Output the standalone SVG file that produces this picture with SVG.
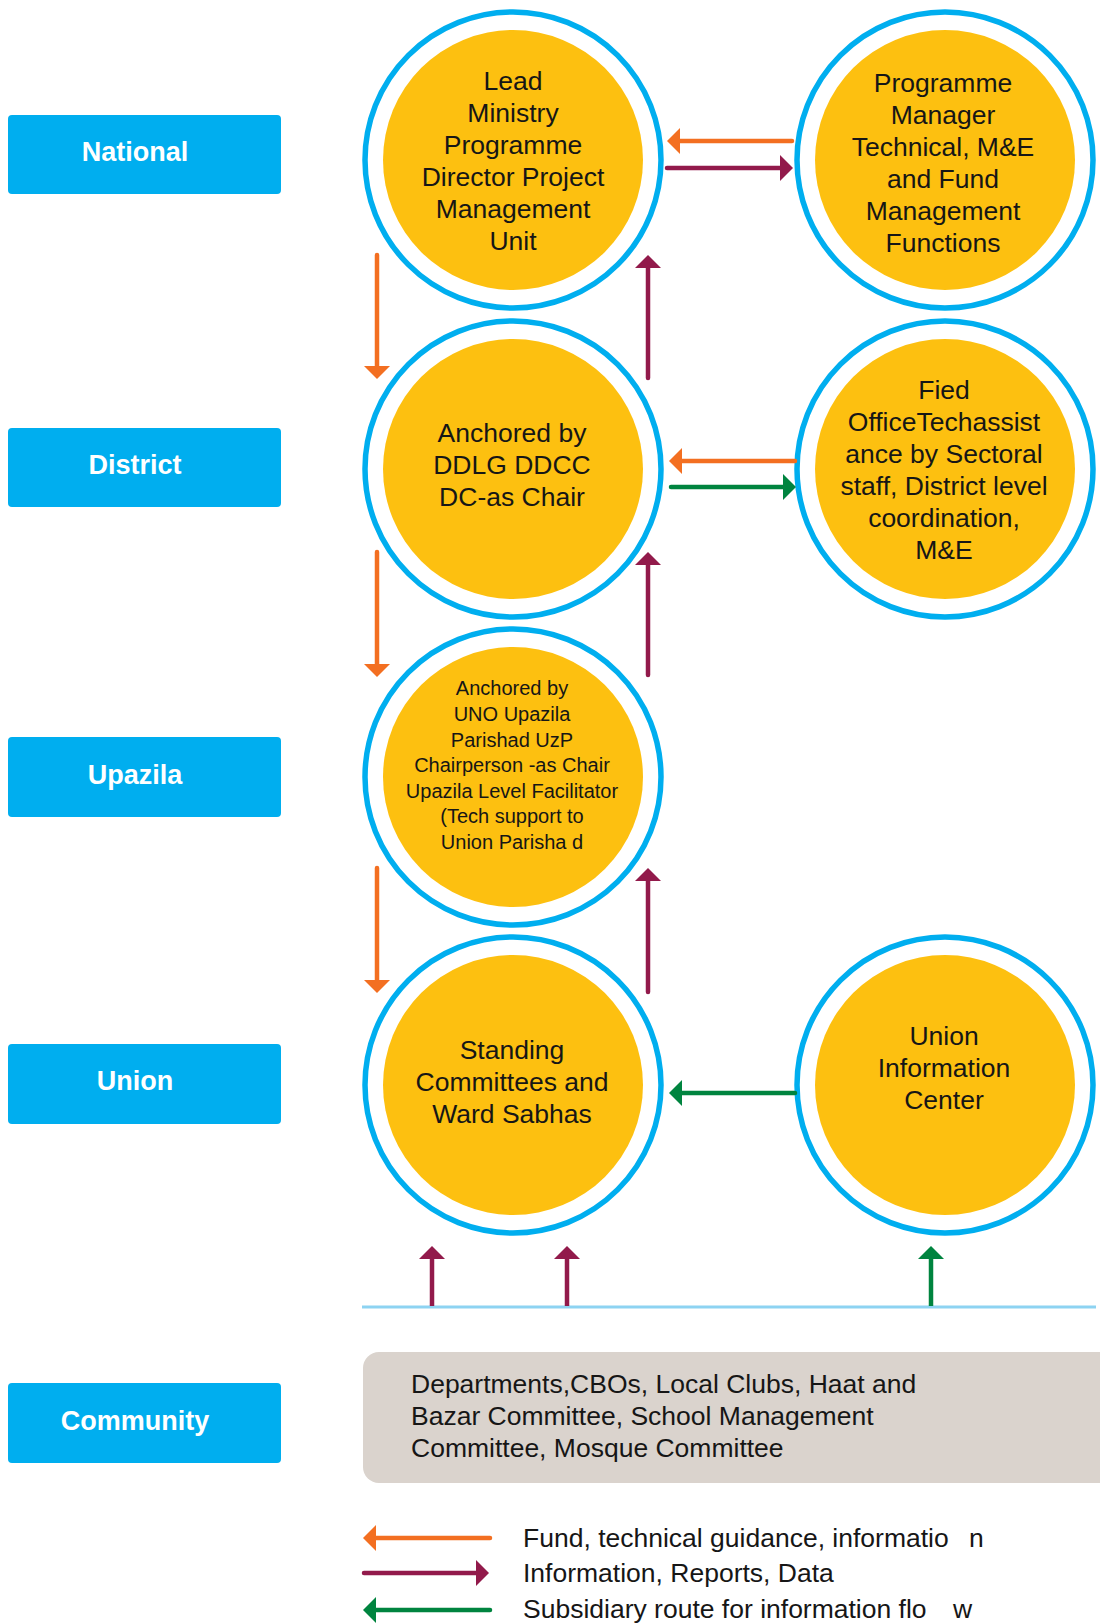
<svg xmlns="http://www.w3.org/2000/svg" width="1100" height="1624" viewBox="0 0 1100 1624">
<style>
.lbl{fill:#00AEEF}
.lt{font-family:"Liberation Sans",Arial,sans-serif;font-weight:bold;font-size:27px;fill:#fff;text-anchor:middle}
.ring{fill:none;stroke:#00AEEF;stroke-width:5.5}
.core{fill:#FDC010}
.t{font-family:"Liberation Sans",Arial,sans-serif;font-size:26.5px;fill:#161616;text-anchor:middle}
.ts{font-family:"Liberation Sans",Arial,sans-serif;font-size:20px;fill:#161616;text-anchor:middle}
.tl{font-family:"Liberation Sans",Arial,sans-serif;font-size:26.5px;fill:#161616}
.c{fill:none;stroke-width:4.5;stroke-linecap:round}
.o{stroke:#F36F21}
.m{stroke:#921A4B}
.g{stroke:#00843F}
</style>
<defs>
<marker id="ao" viewBox="0 0 13 26" markerWidth="13" markerHeight="26" refX="0" refY="13" markerUnits="userSpaceOnUse" orient="auto"><path d="M0,0 L13,13 L0,26 z" fill="#F36F21"/></marker>
<marker id="am" viewBox="0 0 13 26" markerWidth="13" markerHeight="26" refX="0" refY="13" markerUnits="userSpaceOnUse" orient="auto"><path d="M0,0 L13,13 L0,26 z" fill="#921A4B"/></marker>
<marker id="ag" viewBox="0 0 13 26" markerWidth="13" markerHeight="26" refX="0" refY="13" markerUnits="userSpaceOnUse" orient="auto"><path d="M0,0 L13,13 L0,26 z" fill="#00843F"/></marker>
</defs>
<rect width="1100" height="1624" fill="#fff"/>

<g id="label-national"><rect class="lbl" x="8" y="115" width="273" height="79" rx="4"/><text class="lt" x="135" y="161">National</text></g>
<g id="label-district"><rect class="lbl" x="8" y="428" width="273" height="79" rx="4"/><text class="lt" x="135" y="474">District</text></g>
<g id="label-upazila"><rect class="lbl" x="8" y="737" width="273" height="80" rx="4"/><text class="lt" x="135" y="784">Upazila</text></g>
<g id="label-union"><rect class="lbl" x="8" y="1044" width="273" height="80" rx="4"/><text class="lt" x="135" y="1090">Union</text></g>
<g id="label-community"><rect class="lbl" x="8" y="1383" width="273" height="80" rx="4"/><text class="lt" x="135" y="1430">Community</text></g>

<g id="node-lead-ministry">
<circle class="ring" cx="513" cy="160" r="148"/><circle class="core" cx="513" cy="160" r="130"/>
<text class="t"><tspan x="513" y="90">Lead</tspan><tspan x="513" y="122">Ministry</tspan><tspan x="513" y="154">Programme</tspan><tspan x="513" y="186">Director Project</tspan><tspan x="513" y="218">Management</tspan><tspan x="513" y="250">Unit</tspan></text>
</g>
<g id="node-programme-manager">
<circle class="ring" cx="945" cy="160" r="148"/><circle class="core" cx="945" cy="160" r="130"/>
<text class="t"><tspan x="943" y="92">Programme</tspan><tspan x="943" y="124">Manager</tspan><tspan x="943" y="156">Technical, M&amp;E</tspan><tspan x="943" y="188">and Fund</tspan><tspan x="943" y="220">Management</tspan><tspan x="943" y="252">Functions</tspan></text>
</g>
<g id="node-district">
<circle class="ring" cx="513" cy="469" r="148"/><circle class="core" cx="513" cy="469" r="130"/>
<text class="t"><tspan x="512" y="442">Anchored by</tspan><tspan x="512" y="474">DDLG DDCC</tspan><tspan x="512" y="506">DC-as Chair</tspan></text>
</g>
<g id="node-field-office">
<circle class="ring" cx="945" cy="469" r="148"/><circle class="core" cx="945" cy="469" r="130"/>
<text class="t"><tspan x="944" y="399">Fied</tspan><tspan x="944" y="431">OfficeTechassist</tspan><tspan x="944" y="463">ance by Sectoral</tspan><tspan x="944" y="495">staff, District level</tspan><tspan x="944" y="527">coordination,</tspan><tspan x="944" y="559">M&amp;E</tspan></text>
</g>
<g id="node-upazila">
<circle class="ring" cx="513" cy="777" r="148"/><circle class="core" cx="513" cy="777" r="130"/>
<text class="ts"><tspan x="512" y="695">Anchored by</tspan><tspan x="512" y="721">UNO Upazila</tspan><tspan x="512" y="747">Parishad UzP</tspan><tspan x="512" y="772">Chairperson -as Chair</tspan><tspan x="512" y="798">Upazila Level Facilitator</tspan><tspan x="512" y="823">(Tech support to</tspan><tspan x="512" y="849">Union Parisha d</tspan></text>
</g>
<g id="node-standing-committees">
<circle class="ring" cx="513" cy="1085" r="148"/><circle class="core" cx="513" cy="1085" r="130"/>
<text class="t"><tspan x="512" y="1059">Standing</tspan><tspan x="512" y="1091">Committees and</tspan><tspan x="512" y="1123">Ward Sabhas</tspan></text>
</g>
<g id="node-union-info">
<circle class="ring" cx="945" cy="1085" r="148"/><circle class="core" cx="945" cy="1085" r="130"/>
<text class="t"><tspan x="944" y="1045">Union</tspan><tspan x="944" y="1077">Information</tspan><tspan x="944" y="1109">Center</tspan></text>
</g>

<g id="node-community">
<rect x="363" y="1352" width="752" height="131" rx="16" fill="#DAD3CD"/>
<text class="tl"><tspan x="411" y="1393">Departments,CBOs, Local Clubs, Haat and</tspan><tspan x="411" y="1425">Bazar Committee, School Management</tspan><tspan x="411" y="1457">Committee, Mosque Committee</tspan></text>
</g>

<g id="connectors">
<line class="c o" x1="792" y1="141" x2="680" y2="141" marker-end="url(#ao)"/>
<line class="c m" x1="667" y1="168" x2="780" y2="168" marker-end="url(#am)"/>
<line class="c o" x1="795" y1="461" x2="682" y2="461" marker-end="url(#ao)"/>
<line class="c g" x1="671" y1="487" x2="783" y2="487" marker-end="url(#ag)"/>
<line class="c g" x1="795" y1="1093" x2="682" y2="1093" marker-end="url(#ag)"/>

<line class="c o" x1="377" y1="255" x2="377" y2="366" marker-end="url(#ao)"/>
<line class="c m" x1="648" y1="378" x2="648" y2="268" marker-end="url(#am)"/>
<line class="c o" x1="377" y1="552" x2="377" y2="664" marker-end="url(#ao)"/>
<line class="c m" x1="648" y1="675" x2="648" y2="565" marker-end="url(#am)"/>
<line class="c o" x1="377" y1="868" x2="377" y2="980" marker-end="url(#ao)"/>
<line class="c m" x1="648" y1="992" x2="648" y2="881" marker-end="url(#am)"/>

<line x1="362" y1="1307" x2="1096" y2="1307" stroke="#8DD3F2" stroke-width="3"/>
<line class="m" x1="432" y1="1306" x2="432" y2="1259" stroke-width="4.5" marker-end="url(#am)"/>
<line class="m" x1="567" y1="1306" x2="567" y2="1259" stroke-width="4.5" marker-end="url(#am)"/>
<line class="g" x1="931" y1="1306" x2="931" y2="1259" stroke-width="4.5" marker-end="url(#ag)"/>
</g>

<g id="legend">
<line class="c o" x1="490" y1="1538" x2="376" y2="1538" marker-end="url(#ao)"/>
<text class="tl" x="523" y="1547">Fund, technical guidance, informatio<tspan x="969">n</tspan></text>
<line class="c m" x1="364" y1="1573" x2="476" y2="1573" marker-end="url(#am)"/>
<text class="tl" x="523" y="1582">Information, Reports, Data</text>
<line class="c g" x1="490" y1="1610" x2="376" y2="1610" marker-end="url(#ag)"/>
<text class="tl" x="523" y="1618">Subsidiary route for information flo<tspan x="953">w</tspan></text>
</g>
</svg>
